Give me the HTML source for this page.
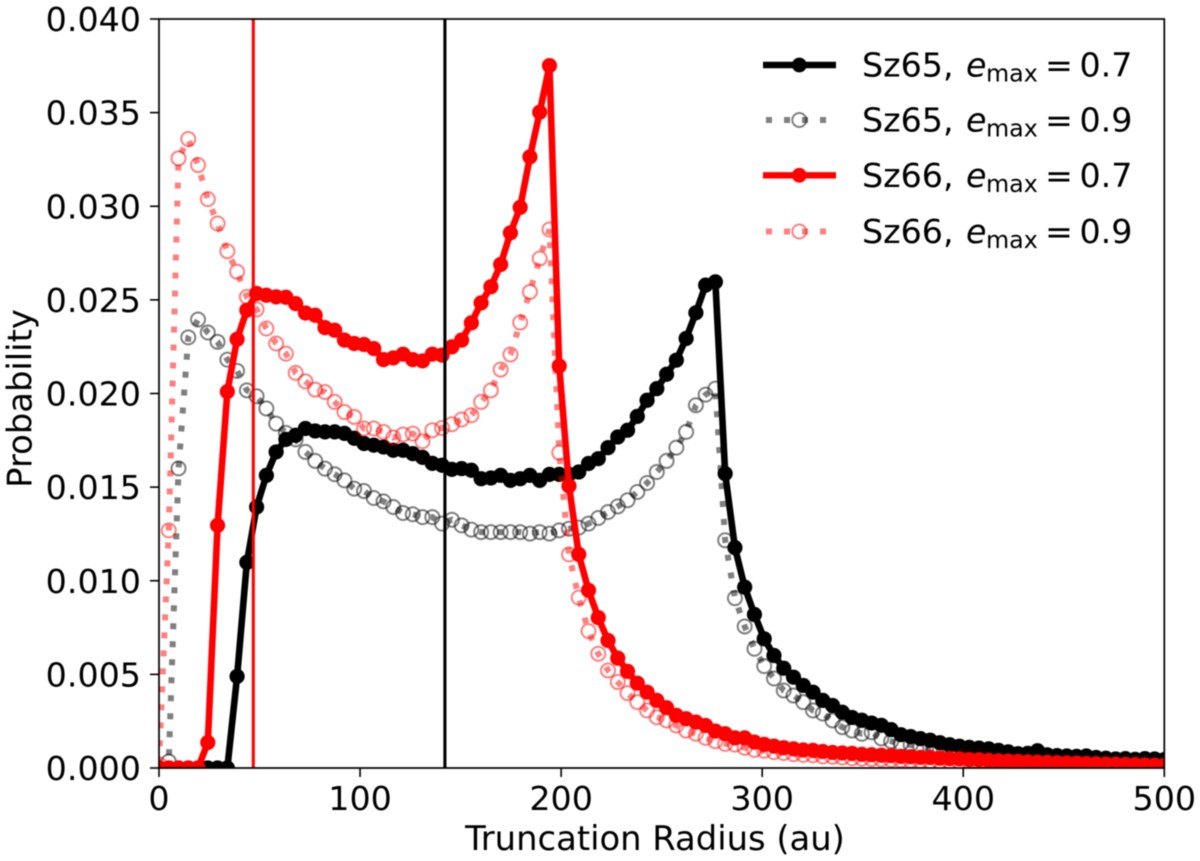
<!DOCTYPE html>
<html lang="en">
<head>
<meta charset="utf-8">
<title>Truncation radius probability</title>
<style>
html,body{margin:0;padding:0;background:#fff;}
svg{display:block;font-family:"DejaVu Sans","Liberation Sans",sans-serif;fill:#000;filter:blur(0.55px);}
text{font-size:33.3px;}
</style>
</head>
<body>
<svg id="chart" xmlns="http://www.w3.org/2000/svg" width="1200" height="861" viewBox="0 0 1200 861">
  <defs>
    <clipPath id="plot-clip"><rect x="159" y="19" width="1005.3" height="749"></rect></clipPath>
  </defs>
  <rect x="159" y="19" width="1005.3" height="749" fill="#fff"></rect>
  <g id="marks" clip-path="url(#plot-clip)"></g>
  <g id="axes"></g>
  <text x="655" y="850" text-anchor="middle" style="font-size:33.8px">Truncation Radius (au)</text>
  <text transform="translate(31.5 398.5) rotate(-90)" text-anchor="middle" style="font-size:33.8px">Probability</text>
  <g id="legend"></g>
</svg>
<script>
// Bin spacing of the radius grid (au); every series is sampled at index * binWidth.
const binWidth = 4.855;

const sz65Emax07 = [
0,0,0,0,0,0,0,0,.00489,.01098,
.01394,.01563,.01688,.01755,.01777,.01813,.018,.01795,.01795,.01787,
.01761,.01733,.01724,.01714,.01697,.01697,.01679,.01659,.01627,.01617,
.01595,.01599,.0159,.01545,.01549,.01563,.01536,.01545,.01563,.01536,
.01568,.01568,.01568,.01581,.01626,.01652,.01711,.01768,.01804,.01878,
.01964,.02026,.02103,.02178,.02294,.02431,.02579,.02596,.01572,.01177,
.00966,.0082,.0069,.00601,.00533,.00485,.00441,.00405,.00361,.00334,
.00298,.0027,.00255,.0024,.00228,.00205,.00178,.00168,.00157,.00148,
.00135,.00124,.00116,.0011,.00106,.00102,.00094,.00086,.00076,.00078,
.00092,.0007,.00066,.00064,.00062,.00064,.00056,.00052,.00048,.0005,
.00046,.0005,.00048,.00045];

const sz65Emax09 = [
0,.00035,.016,.023,.02395,.02326,.02276,.02181,.02121,.02017,
.01985,.0192,.01839,.0179,.01755,.01688,.0164,.01599,.01569,.01536,
.01492,.01479,.01442,.01424,.01394,.01362,.01355,.0134,.0134,.01305,
.01326,.01296,.01273,.0126,.0126,.0126,.0126,.0126,.01252,.0126,
.01252,.01269,.01278,.01284,.01305,.01335,.01367,.01397,.0143,.01474,
.01522,.01581,.0164,.01711,.01795,.01937,.01994,.02026,.01216,.00907,
.00756,.00637,.00544,.00478,.00414,.00387,.00352,.00307,.00291,.00254,
.00218,.002,.00183,.00191,.00158,.00143,.00129,.00124,.00111,.00106,
.00098,.00092,.00084,.00078,.00072,.00066,.00062,.00058,.00054,.0005,
.00048,.00045,.00043,.0004,.00038,.00036,.00034,.00032,.0003,.00029,
.00028,.00026,.00025,.00024];

const sz66Emax07 = [
0,0,0,0,0,.00136,.01296,.0201,.0229,.02445,
.02534,.02525,.02516,.02514,.0248,.0243,.02418,.02352,.02338,.02285,
.02267,.02262,.0224,.02181,.0219,.0221,.02181,.02174,.0221,.02205,
.02249,.02285,.02377,.02484,.0257,.02689,.02858,.02994,.03264,.03502,
.03751,.02147,.01506,.01141,.00949,.00803,.00681,.00587,.00516,.00453,
.00405,.00361,.00322,.00281,.00263,.00245,.00227,.00197,.00183,.00161,
.00161,.00138,.00126,.00117,.00108,.00102,.00096,.00094,.00088,.00083,
.0008,.00078,.00073,.00071,.00068,.00066,.00062,.0006,.00057,.00056,
.00052,.0005,.00049,.00045,.00044,.00041,.00038,.00037,.00035,.00033,
.00031,.0003,.00028,.00027,.00026,.00024,.00023,.00021,.0002,.00019,
.00018,.00016,.00015,.00014];

const sz66Emax09 = [
.0002,.01269,.03256,.03359,.0322,.03038,.02908,.0276,.0265,.02516,
.02449,.02347,.02267,.02213,.0211,.02065,.02021,.02008,.01955,.01901,
.01875,.01813,.01813,.01795,.01765,.01781,.01786,.01745,.01804,.01816,
.01836,.01861,.01884,.01955,.02017,.02128,.02208,.02379,.02543,.02721,
.02876,.01684,.01141,.0091,.00731,.0061,.00521,.00459,.004,.00352,
.00307,.00271,.00254,.00227,.002,.00183,.00161,.00143,.00129,.00125,
.00108,.00097,.00092,.00085,.0008,.00074,.0007,.00068,.00062,.0006,
.00056,.00052,.0005,.00048,.00046,.00044,.00042,.0004,.00038,.00036,
.00034,.00032,.0003,.00029,.00028,.00026,.00025,.00024,.00022,.00021,
.0002,.00019,.00018,.00017,.00016,.00015,.00014,.00014,.00013,.00012,
.00012,.00011,.0001,.0001];

const xTickValues = [0, 100, 200, 300, 400, 500];
const xTickLabels = ['0', '100', '200', '300', '400', '500'];
const yTickValues = [0, .005, .01, .015, .02, .025, .03, .035, .04];
const yTickLabels = ['0.000', '0.005', '0.010', '0.015', '0.020', '0.025', '0.030', '0.035', '0.040'];
const sz65Radius = [142.2];
const sz66Radius = [46.9];

const SVGNS = 'http://www.w3.org/2000/svg';
const xScale = r => 159 + (r / 500) * 1005.3;
const yScale = p => 768 - (p / 0.04) * 749;

function make(tag, attrs, parent) {
  const el = document.createElementNS(SVGNS, tag);
  for (const k in attrs) el.setAttribute(k, attrs[k]);
  parent.appendChild(el);
  return el;
}

const marks = document.getElementById('marks');
const axes = document.getElementById('axes');
const legend = document.getElementById('legend');

function pathFrom(values) {
  return values.map((v, i) => (i ? 'L' : 'M') + xScale(i * binWidth).toFixed(2) + ' ' + yScale(v).toFixed(2)).join('');
}

function drawSolid(values, color, name) {
  const g = make('g', {}, marks);
  
  
  const line = make('path', { d: pathFrom(values), fill: 'none', stroke: color, 'stroke-width': 6.6, 'stroke-linejoin': 'round' }, g);
  
  
  values.forEach((v, i) => {
    const pt = make('circle', { cx: xScale(i * binWidth), cy: yScale(v), r: 7.6, fill: color }, g);
    
    
  });
}

function drawDotted(values, color, name) {
  const g = make('g', { opacity: 1 }, marks);
  
  
  const line = make('path', { d: pathFrom(values), fill: 'none', stroke: color, 'stroke-opacity': .5, 'stroke-width': 6, 'stroke-dasharray': '6 12' }, g);
  
  
  values.forEach((v, i) => {
    const pt = make('circle', { cx: xScale(i * binWidth), cy: yScale(v), r: 7, fill: 'none', stroke: color, 'stroke-opacity': .5, 'stroke-width': 2 }, g);
    
    
  });
}

drawSolid(sz65Emax07, '#000', 'sz65-emax-0-7-series');
drawDotted(sz65Emax09, '#000', 'sz65-emax-0-9-series');
drawDotted(sz66Emax09, '#f00', 'sz66-emax-0-9-series');
drawSolid(sz66Emax07, '#f00', 'sz66-emax-0-7-series');

sz66Radius.forEach(r => {
  const v = make('line', { x1: xScale(r), x2: xScale(r), y1: 19, y2: 768, stroke: '#f00', 'stroke-width': 3.1 }, marks);
  
  
});
sz65Radius.forEach(r => {
  const v = make('line', { x1: xScale(r), x2: xScale(r), y1: 19, y2: 768, stroke: '#000', 'stroke-width': 3.1 }, marks);
  
  
});

xTickValues.forEach((t, i) => {
  const x = xScale(t);
  const tick = make('line', { x1: x, x2: x, y1: 768, y2: 777, stroke: '#000', 'stroke-width': 1.6 }, axes);
  
  
  const label = make('text', { x: x, y: 810, 'text-anchor': 'middle' }, axes);
  
  
  label.textContent = xTickLabels[i];
});
yTickValues.forEach((t, i) => {
  const y = yScale(t);
  const tick = make('line', { x1: 150, x2: 159, y1: y, y2: y, stroke: '#000', 'stroke-width': 1.6 }, axes);
  
  
  const label = make('text', { x: 141, y: y + 12, 'text-anchor': 'end' }, axes);
  
  
  label.textContent = yTickLabels[i];
});
const frame = make('rect', { x: 159, y: 19, width: 1005.3, height: 749, fill: 'none', stroke: '#000', 'stroke-width': 1.7 }, axes);



const legendNames = ['Sz65,', 'Sz65,', 'Sz66,', 'Sz66,'];
const legendEmax = ['0.7', '0.9', '0.7', '0.9'];
const legendColors = ['#000', '#000', '#f00', '#f00'];
const legendDotted = [false, true, false, true];
const legendY = [65, 120, 175.3, 231.5];

legendNames.forEach((name, i) => {
  const y = legendY[i];
  const c = legendColors[i];
  const g = make('g', {}, legend);
  
  
  if (legendDotted[i]) {
    const l = make('line', { x1: 766, x2: 829, y1: y, y2: y, stroke: c, 'stroke-opacity': .5, 'stroke-width': 6, 'stroke-dasharray': '6 12' }, g);
    
    
    const m = make('circle', { cx: 799.3, cy: y, r: 7, fill: 'none', stroke: c, 'stroke-opacity': .5, 'stroke-width': 2 }, g);
    
    
  } else {
    const l = make('line', { x1: 763, x2: 836, y1: y, y2: y, stroke: c, 'stroke-width': 6.4 }, g);
    
    
    const m = make('circle', { cx: 799.3, cy: y, r: 7.4, fill: c }, g);
    
    
  }
  const base = y + 11.7;
  const t1 = make('text', { x: 862, y: base }, g);
  
  
  t1.textContent = name;
  const t2 = make('text', { x: 966, y: base, 'font-style': 'italic' }, g);
  
  
  t2.textContent = 'e';
  const t3 = make('text', { x: 986, y: base + 5, style: 'font-size:23.8px' }, g);
  
  
  t3.textContent = 'max';
  const t4 = make('text', { x: 1045, y: base }, g);
  
  
  t4.textContent = '=';
  const t5 = make('text', { x: 1079.5, y: base }, g);
  
  
  t5.textContent = legendEmax[i];
});
</script>
</body>
</html>
